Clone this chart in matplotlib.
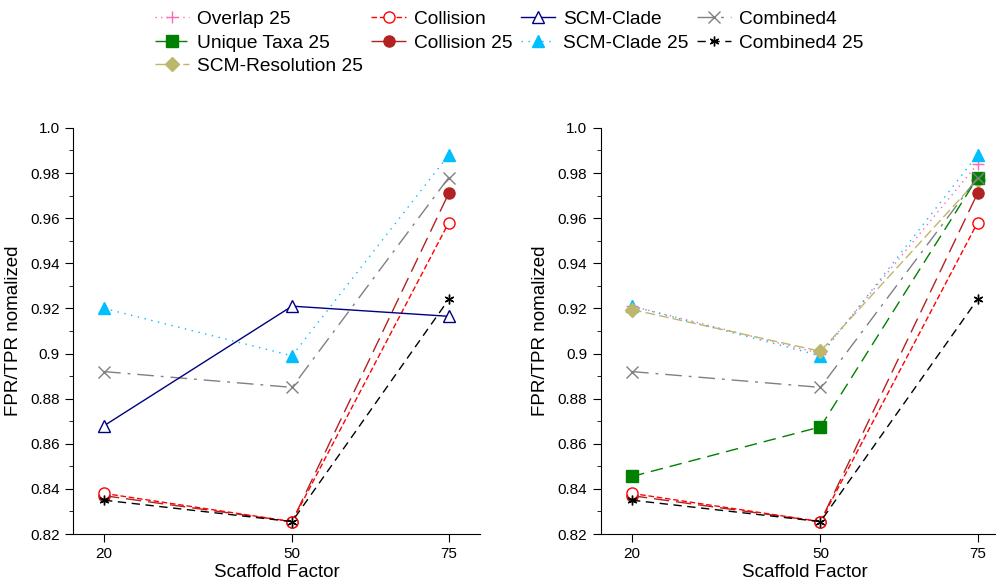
import matplotlib
matplotlib.use("Agg")
import matplotlib.pyplot as plt
from matplotlib.ticker import MultipleLocator

plt.rcParams['font.family'] = ['Liberation Sans', 'DejaVu Sans']

# scaffold factors on the x axis
factors = [20, 50, 75]

# series values
overlap25 = [0.921, 0.900, 0.984]
unique25 = [0.8455, 0.8675, 0.978]
scmres25 = [0.9195, 0.901, 0.977]
collision = [0.838, 0.8255, 0.958]
collision25 = [0.837, 0.8255, 0.971]
scmclade = [0.868, 0.921, 0.9165]
scmclade25_left = [0.920, 0.899, 0.988]
scmclade25_right = [0.921, 0.899, 0.988]
combined4 = [0.892, 0.885, 0.978]
combined4_25 = [0.835, 0.8255, 0.924]

yticks = [0.82, 0.84, 0.86, 0.88, 0.90, 0.92, 0.94, 0.96, 0.98, 1.0]
ylabels = ['0.82', '0.84', '0.86', '0.88', '0.9', '0.92', '0.94', '0.96', '0.98', '1.0']

styles = {
    'Overlap 25': dict(color='hotpink', ls=(0, (1, 3)), marker='+', ms=8, mew=1),
    'Unique Taxa 25': dict(color='green', ls=(0, (9, 5)), marker='s', ms=8),
    'SCM-Resolution 25': dict(color='darkkhaki', ls=(0, (7, 3)), marker='D', ms=7),
    'Collision': dict(color='red', ls=(0, (4, 2)), marker='o', ms=8, mfc='white', mew=1),
    'Collision 25': dict(color='firebrick', ls=(0, (11, 5)), marker='o', ms=8),
    'SCM-Clade': dict(color='navy', ls='-', marker='^', ms=8, mfc='white', mew=1),
    'SCM-Clade 25': dict(color='deepskyblue', ls=(0, (1, 4)), marker='^', ms=8),
    'Combined4': dict(color='gray', ls=(0, (12, 5, 2, 5)), marker='x', ms=9, mew=1),
    'Combined4 25': dict(color='black', ls=(0, (6, 4)), marker=(6, 2, 0), ms=7, mew=1),
}

fig = plt.figure(figsize=(9.96, 5.86), dpi=100)
ax1 = fig.add_axes([0.073, 0.0887, 0.409, 0.693])
ax2 = fig.add_axes([0.603, 0.0887, 0.41, 0.693])

left = [('SCM-Clade 25', scmclade25_left), ('Combined4', combined4),
        ('Collision 25', collision25), ('Collision', collision),
        ('SCM-Clade', scmclade), ('Combined4 25', combined4_25)]
right = [('Overlap 25', overlap25), ('SCM-Clade 25', scmclade25_right),
         ('SCM-Resolution 25', scmres25), ('Unique Taxa 25', unique25),
         ('Combined4', combined4), ('Collision 25', collision25),
         ('Collision', collision), ('Combined4 25', combined4_25)]

handles = {}
for ax, series in [(ax1, left), (ax2, right)]:
    for name, vals in series:
        st = dict(styles[name])
        ln, = ax.plot(factors, vals, lw=1, label=name, **st)
        handles[name] = ln
    ax.set_xlim(15, 80)
    ax.set_ylim(0.82, 1.0)
    ax.set_xticks(factors)
    ax.set_yticks(yticks)
    ax.set_yticklabels(ylabels)
    ax.yaxis.set_minor_locator(MultipleLocator(0.01))
    ax.tick_params(direction='out', labelsize=11, length=6)
    ax.tick_params(which='minor', direction='out', length=3)
    for s in ['top', 'right']:
        ax.spines[s].set_visible(False)
    ax.set_xlabel('Scaffold Factor', fontsize=13.5, labelpad=2)
    ax.set_ylabel('FPR/TPR nomalized', fontsize=13.5, labelpad=6)

order = ['Overlap 25', 'Unique Taxa 25', 'SCM-Resolution 25', 'Collision',
         'Collision 25', 'SCM-Clade', 'SCM-Clade 25', 'Combined4', 'Combined4 25']
fig.legend([handles[n] for n in order], order, loc='upper left',
           bbox_to_anchor=(0.1477, 0.995), borderaxespad=0, ncol=4,
           frameon=False, fontsize=13.8, handlelength=1.8, columnspacing=0.45,
           labelspacing=0.32, handletextpad=0.4)

fig.savefig('out.png', dpi=100)
